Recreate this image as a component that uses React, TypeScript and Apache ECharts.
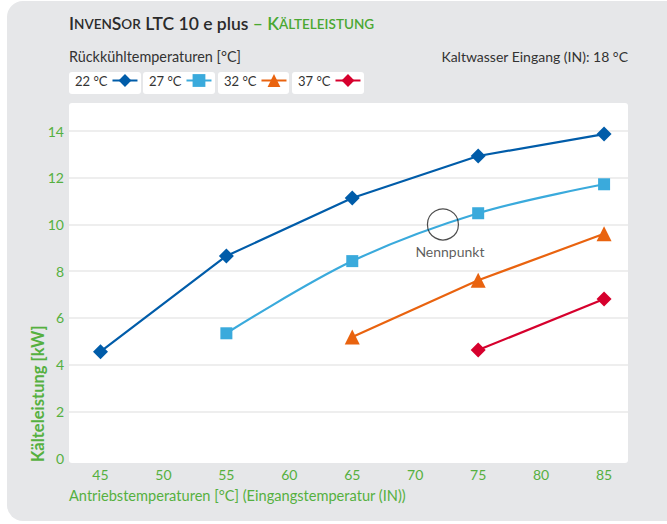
import React, { useEffect, useRef } from "react";
import * as echarts from "echarts";

// tick labels
const xTicks = [45, 50, 55, 60, 65, 70, 75, 80, 85];
const yTicks = [0, 2, 4, 6, 8, 10, 12, 14];

// series (Rückkühltemperaturen)
const seriesNames = ["22 °C", "27 °C", "32 °C", "37 °C"];
const temps22 = [45, 55, 65, 75, 85];
const values22 = [4.55, 8.65, 11.13, 12.93, 13.87];
const temps27 = [55, 65, 75, 85];
const values27 = [5.34, 8.43, 10.48, 11.72];
const temps32 = [65, 75, 85];
const values32 = [5.18, 7.61, 9.6];
const temps37 = [75, 85];
const values37 = [4.62, 6.81];

// rated point
const nennpunkt = [72.2, 10.0];

const FONT = "Lato";
const GREEN = "#55b040";
const TEXT = "#333333";

function pairs(xs: number[], ys: number[]) {
  return xs.map((x, i) => [x, ys[i]]);
}

export default function App() {
  const ref = useRef<HTMLDivElement>(null);
  useEffect(() => {
    if (!ref.current) return;
    const chart = echarts.init(ref.current, null, { renderer: "svg" });
    const colors = ["#005ca9", "#3aaadc", "#e9630f", "#d6002d"];
    const symbols = ["diamond", "rect", "triangle", "diamond"];
    const sizes = [15, 12, 15, 15];
    const datas = [
      pairs(temps22, values22),
      pairs(temps27, values27),
      pairs(temps32, values32),
      pairs(temps37, values37),
    ];
    const smooths = [false, 0.35, false, false];
    const legendLefts = [75, 149, 224, 298];
    const boxes = [
      [69, 72, 72],
      [143, 72, 72],
      [218, 72, 71],
      [292, 72, 72],
    ];

    const lineSeries = seriesNames.map((name, i) => ({
      name,
      type: "line",
      data: datas[i],
      smooth: smooths[i],
      symbol: symbols[i],
      symbolSize: sizes[i],
      showAllSymbol: true,
      lineStyle: { color: colors[i], width: 2.2 },
      itemStyle: { color: colors[i] },
      z: 3,
    }));

    const big = (color: string) => ({
      fontSize: 17.5,
      fontWeight: 600,
      color,
      fontFamily: FONT,
      verticalAlign: "bottom",
      lineHeight: 20,
    });
    const small = (color: string) => ({
      fontSize: 13.5,
      fontWeight: 600,
      color,
      fontFamily: FONT,
      verticalAlign: "bottom",
      lineHeight: 20,
      padding: [0, 0, 1, 0],
    });

    const option: any = {
      animation: false,
      textStyle: { fontFamily: FONT },
      title: {
        left: 69,
        top: 12,
        padding: 0,
        text:
          "{b|I}{s|NVEN}{b|S}{s|OR}{b| LTC 10 e plus }{g|– K}{gs|ÄLTELEISTUNG}",
        textStyle: {
          rich: {
            b: big("#2b2b2b"),
            s: small("#2b2b2b"),
            g: big("#4aa832"),
            gs: small("#4aa832"),
          },
        },
      },
      graphic: [
        {
          type: "rect",
          shape: { x: 7, y: 1, width: 680, height: 520, r: 16 },
          style: { fill: "#e6e7e9" },
          z: -20,
          silent: true,
        },
        {
          type: "rect",
          shape: { x: 69, y: 103, width: 559, height: 360, r: 3 },
          style: { fill: "#ffffff" },
          z: -19,
          silent: true,
        },
        ...boxes.map((b) => ({
          type: "rect",
          shape: { x: b[0], y: b[1], width: b[2], height: 22, r: 3 },
          style: { fill: "#ffffff" },
          z: -19,
          silent: true,
        })),
        {
          type: "text",
          x: 69,
          y: 56,
          style: {
            text: "Rückkühltemperaturen [°C]",
            fill: TEXT,
            font: `14.4px ${FONT}`,
            verticalAlign: "middle",
            align: "left",
          },
        },
        {
          type: "text",
          x: 628,
          y: 56,
          style: {
            text: "Kaltwasser Eingang (IN): 18 °C",
            fill: TEXT,
            font: `14px ${FONT}`,
            verticalAlign: "middle",
            align: "right",
          },
        },
        {
          type: "text",
          x: 38,
          y: 462,
          rotation: Math.PI / 2,
          style: {
            text: "Kälteleistung [kW]",
            fill: GREEN,
            font: `bold 16.5px ${FONT}`,
            verticalAlign: "middle",
            align: "left",
          },
        },
        {
          type: "text",
          x: 69,
          y: 495,
          style: {
            text: "Antriebstemperaturen [°C] (Eingangstemperatur (IN))",
            fill: GREEN,
            font: `14.6px ${FONT}`,
            verticalAlign: "middle",
            align: "left",
          },
        },
      ],
      legend: seriesNames.map((name, i) => ({
        data: [name],
        left: legendLefts[i],
        top: 74,
        align: "right",
        itemWidth: 25,
        itemHeight: 16,
        padding: 0,
        textStyle: { color: TEXT, fontSize: 13, fontFamily: FONT },
        selectedMode: false,
      })),
      grid: { left: 69, right: 39, top: 103, bottom: 66, containLabel: false },
      xAxis: {
        type: "value",
        min: 42.5,
        max: 86.9,
        axisLine: { show: false },
        axisTick: { show: false },
        splitLine: { show: false },
        axisLabel: {
          customValues: xTicks,
          color: GREEN,
          fontSize: 14,
          fontFamily: FONT,
          margin: 9,
        },
      },
      yAxis: {
        type: "value",
        min: 0,
        max: 15.2,
        interval: 2,
        axisLine: { show: false },
        axisTick: { show: false },
        axisLabel: {
          color: GREEN,
          fontSize: 14,
          fontFamily: FONT,
          margin: 5,
          showMaxLabel: false,
          formatter: (v: number) => (yTicks.includes(v) ? String(v) : ""),
        },
        splitLine: {
          show: true,
          showMaxLine: false,
          showMinLine: false,
          lineStyle: { color: "#e8e8e8", width: 1.5 },
        },
      },
      series: [
        ...lineSeries,
        {
          name: "Nennpunkt",
          type: "scatter",
          data: [nennpunkt],
          symbol: "circle",
          symbolSize: 31,
          itemStyle: { color: "rgba(0,0,0,0)", borderColor: "#222", borderWidth: 1.2 },
          label: {
            show: true,
            position: "bottom",
            distance: 4,
            offset: [7, 0],
            formatter: "Nennpunkt",
            color: TEXT,
            fontSize: 14,
            fontFamily: FONT,
          },
          z: 4,
        },
      ],
    };
    chart.setOption(option);
    return () => chart.dispose();
  }, []);
  return (
    <div
      ref={ref}
      style={{ position: "fixed", left: 0, top: 0, width: 667, height: 524, background: "#fff" }}
    />
  );
}
